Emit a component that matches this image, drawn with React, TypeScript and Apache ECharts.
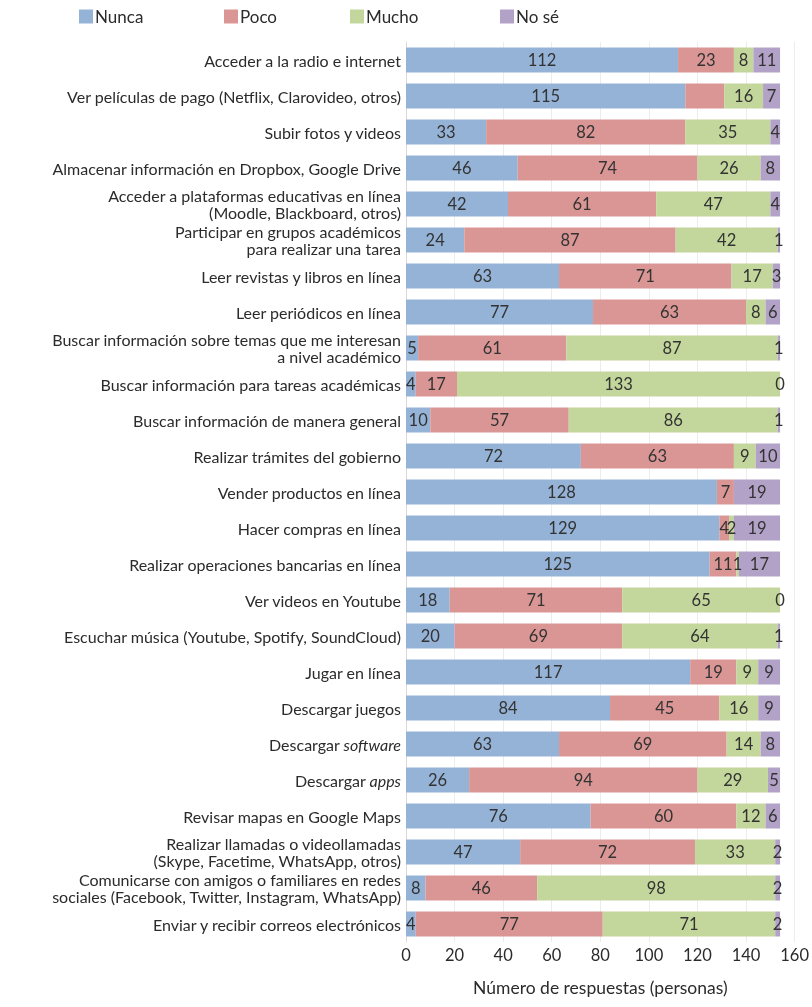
import React, { useEffect, useRef } from "react";
import * as echarts from "echarts";

const categories = [
  "Acceder a la radio e internet",
  "Ver películas de pago (Netflix, Clarovideo, otros)",
  "Subir fotos y videos",
  "Almacenar información en Dropbox, Google Drive",
  "Acceder a plataformas educativas en línea\n(Moodle, Blackboard, otros)",
  "Participar en grupos académicos\npara realizar una tarea",
  "Leer revistas y libros en línea",
  "Leer periódicos en línea",
  "Buscar información sobre temas que me interesan\na nivel académico",
  "Buscar información para tareas académicas",
  "Buscar información de manera general",
  "Realizar trámites del gobierno",
  "Vender productos en línea",
  "Hacer compras en línea",
  "Realizar operaciones bancarias en línea",
  "Ver videos en Youtube",
  "Escuchar música (Youtube, Spotify, SoundCloud)",
  "Jugar en línea",
  "Descargar juegos",
  "Descargar {i|software}",
  "Descargar {i|apps}",
  "Revisar mapas en Google Maps",
  "Realizar llamadas o videollamadas\n(Skype, Facetime, WhatsApp, otros)",
  "Comunicarse con amigos o familiares en redes\nsociales (Facebook, Twitter, Instagram, WhatsApp)",
  "Enviar y recibir correos electrónicos",
];

const seriesNames = ["Nunca", "Poco", "Mucho", "No sé"];
const nunca = [112, 115, 33, 46, 42, 24, 63, 77, 5, 4, 10, 72, 128, 129, 125, 18, 20, 117, 84, 63, 26, 76, 47, 8, 4];
const poco = [23, 16, 82, 74, 61, 87, 71, 63, 61, 17, 57, 63, 7, 4, 11, 71, 69, 19, 45, 69, 94, 60, 72, 46, 77];
const mucho = [8, 16, 35, 26, 47, 42, 17, 8, 87, 133, 86, 9, 0, 2, 1, 65, 64, 9, 16, 14, 29, 12, 33, 98, 71];
const noSe = [11, 7, 4, 8, 4, 1, 3, 6, 1, 0, 1, 10, 19, 19, 17, 0, 1, 9, 9, 8, 5, 6, 2, 2, 2];
// [series index, category index] of values whose label is not printed
const hiddenLabels: [number, number][] = [
  [1, 1],
  [2, 12],
];
const xTicks = [0, 20, 40, 60, 80, 100, 120, 140, 160];

const colors = ["#95B3D7", "#D99694", "#C3D69B", "#B3A2C7"];
const legendLeft = [79, 224, 350, 500];
const FONT = "Lato, 'Noto Sans', sans-serif";
const TEXT = "#2b2b2b";

export default function App() {
  const ref = useRef<HTMLDivElement>(null);
  useEffect(() => {
    if (!ref.current) return;
    const chart = echarts.init(ref.current, null, { renderer: "svg" });
    const values = [nunca, poco, mucho, noSe];
    const series = values.map((arr, si) => ({
      name: seriesNames[si],
      type: "bar",
      stack: "total",
      barWidth: 25,
      itemStyle: { color: colors[si] },
      label: {
        show: true,
        position: "inside",
        color: "#333",
        fontFamily: FONT,
        fontSize: 16.5,
      },
      data: arr.map((v, ci) =>
        hiddenLabels.some(([s, c]) => s === si && c === ci)
          ? { value: v, label: { show: false } }
          : v
      ),
    }));
    chart.setOption({
      animation: false,
      textStyle: { fontFamily: FONT },
      legend: seriesNames.map((n, i) => ({
        data: [n],
        left: legendLeft[i],
        top: 8,
        padding: 0,
        icon: "rect",
        itemWidth: 14,
        itemHeight: 14,
        itemGap: 0,
        textStyle: { fontFamily: FONT, fontSize: 17, color: TEXT, padding: [0, 0, 0, -3] },
      })),
      grid: { left: 406, right: 16, top: 42, bottom: 65, containLabel: false },
      xAxis: {
        type: "value",
        min: 0,
        max: 160,
        interval: 20,
        name: "Número de respuestas (personas)",
        nameLocation: "middle",
        nameGap: 36,
        nameTextStyle: { fontFamily: FONT, fontSize: 17.5, color: TEXT },
        axisLine: { show: false },
        axisTick: { show: false },
        axisLabel: {
          fontFamily: FONT,
          fontSize: 16.5,
          color: TEXT,
          margin: 4,
          formatter: (v: number) => (xTicks.includes(v) ? String(v) : ""),
        },
        splitLine: { show: true, lineStyle: { color: "#ececec", width: 1 } },
      },
      yAxis: {
        type: "category",
        data: categories,
        inverse: true,
        axisLine: { show: true, lineStyle: { color: "#d9d9d9" } },
        axisTick: { show: false },
        axisLabel: {
          fontFamily: FONT,
          fontSize: 16,
          color: TEXT,
          margin: 5,
          lineHeight: 17.5,
          align: "right",
          rich: {
            i: { fontFamily: FONT, fontSize: 16, color: TEXT, fontStyle: "italic", lineHeight: 17.5 },
          },
        },
      },
      series,
    });
    return () => chart.dispose();
  }, []);
  return (
    <div
      ref={ref}
      style={{ position: "fixed", left: 0, top: 0, width: 812, height: 1007 }}
    />
  );
}
